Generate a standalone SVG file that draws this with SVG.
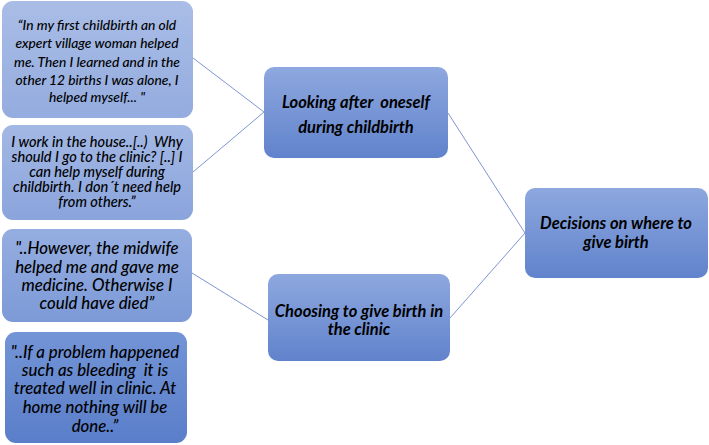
<svg xmlns="http://www.w3.org/2000/svg" width="709" height="445" viewBox="0 0 709 445">
<defs>
<linearGradient id="g1" x1="0" y1="0" x2="0" y2="1"><stop offset="0" stop-color="#a9bde6"/><stop offset="1" stop-color="#94acdf"/></linearGradient>
<linearGradient id="g2" x1="0" y1="0" x2="0" y2="1"><stop offset="0" stop-color="#a3b8e4"/><stop offset="1" stop-color="#8aa4dc"/></linearGradient>
<linearGradient id="g3" x1="0" y1="0" x2="0" y2="1"><stop offset="0" stop-color="#95aee1"/><stop offset="1" stop-color="#7d9ad7"/></linearGradient>
<linearGradient id="g4" x1="0" y1="0" x2="0" y2="1"><stop offset="0" stop-color="#7394d6"/><stop offset="1" stop-color="#5a7ec9"/></linearGradient>
<linearGradient id="gm" x1="0" y1="0" x2="0" y2="1"><stop offset="0" stop-color="#8ea8df"/><stop offset="1" stop-color="#6183cc"/></linearGradient>
</defs>
<style>
.q{font-family:Lato,"Liberation Sans",sans-serif;font-style:italic;font-weight:500;fill:#000;text-anchor:middle;white-space:pre}
.b{font-family:Lato,"Liberation Sans",sans-serif;font-style:italic;font-weight:bold;fill:#000;text-anchor:middle;font-size:16.5px;white-space:pre}
.c{stroke:#7e95d0;stroke-width:1;fill:none}
</style>
<g id="connectors">
<line class="c" x1="193" y1="58" x2="264" y2="112"/>
<line class="c" x1="193" y1="172" x2="264" y2="112"/>
<line class="c" x1="192" y1="273" x2="268" y2="320"/>
<line class="c" x1="448" y1="113" x2="525" y2="233"/>
<line class="c" x1="450" y1="318" x2="525" y2="233"/>
</g>
<g id="q1">
<rect x="2" y="1" width="191" height="117" rx="11" fill="url(#g1)"/>
<text class="q" font-size="13.8" x="97" y="30">“In my first childbirth an old</text>
<text class="q" font-size="13.8" x="97" y="48">expert village woman helped</text>
<text class="q" font-size="13.8" x="97" y="67">me. Then I learned and in the</text>
<text class="q" font-size="13.8" x="97" y="85">other 12 births I was alone, I</text>
<text class="q" font-size="13.8" x="97" y="102">helped myself... "</text>
</g>
<g id="q2">
<rect x="2" y="125" width="191" height="95" rx="11" fill="url(#g2)"/>
<text class="q" font-size="14.6" x="97" y="147" xml:space="preserve">I work in the house..[..)  Why</text>
<text class="q" font-size="14.6" x="97" y="162">should I go to the clinic? [..] I</text>
<text class="q" font-size="14.6" x="97" y="177">can help myself during</text>
<text class="q" font-size="14.6" x="97" y="192">childbirth. I don´t need help</text>
<text class="q" font-size="14.6" x="97" y="207">from others.”</text>
</g>
<g id="q3">
<rect x="2" y="229" width="190" height="93" rx="11" fill="url(#g3)"/>
<text class="q" font-size="16.8" x="97" y="254">"..However, the midwife</text>
<text class="q" font-size="16.8" x="97" y="273">helped me and gave me</text>
<text class="q" font-size="16.8" x="97" y="291">medicine. Otherwise I</text>
<text class="q" font-size="16.8" x="97" y="309">could have died”</text>
</g>
<g id="q4">
<rect x="5" y="332" width="182" height="111" rx="11" fill="url(#g4)"/>
<text class="q" font-size="16.8" x="95" y="358">"..If a problem happened</text>
<text class="q" font-size="16.8" x="95" y="376" xml:space="preserve">such as bleeding  it is</text>
<text class="q" font-size="16.8" x="95" y="394">treated well in clinic. At</text>
<text class="q" font-size="16.8" x="95" y="413">home nothing will be</text>
<text class="q" font-size="16.8" x="95" y="432">done..”</text>
</g>
<g id="m1">
<rect x="264" y="67" width="184" height="91" rx="10" fill="url(#gm)"/>
<text class="b" x="356" y="108" xml:space="preserve">Looking after  oneself</text>
<text class="b" x="356" y="133">during childbirth</text>
</g>
<g id="m2">
<rect x="268" y="274" width="182" height="87" rx="10" fill="url(#gm)"/>
<text class="b" x="359" y="317">Choosing to give birth in</text>
<text class="b" x="359" y="335">the clinic</text>
</g>
<g id="r">
<rect x="525" y="188" width="183" height="90" rx="10" fill="url(#gm)"/>
<text class="b" x="616" y="229">Decisions on where to</text>
<text class="b" x="616" y="248">give birth</text>
</g>
</svg>
